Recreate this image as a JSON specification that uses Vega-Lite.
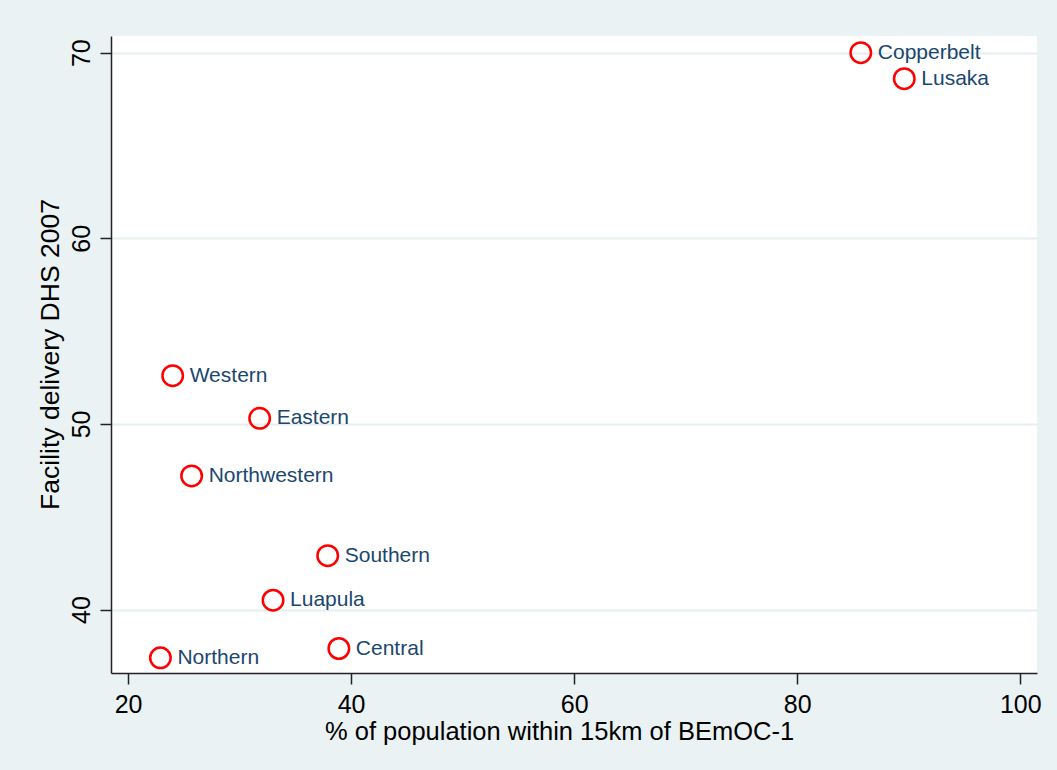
{
  "$schema": "https://vega.github.io/schema/vega-lite/v6.json",
  "width": 926,
  "height": 637,
  "autosize": {"type": "none"},
  "padding": {"left": 111, "top": 36, "right": 20, "bottom": 97},
  "background": "#EAF2F3",
  "view": {"fill": "white", "stroke": null},
  "config": {
    "font": "Liberation Sans",
    "axis": {
      "domainColor": "#222222",
      "domainWidth": 1.5,
      "tickColor": "#222222",
      "tickWidth": 1.5,
      "tickSize": 11,
      "labelFont": "Liberation Sans",
      "titleFont": "Liberation Sans",
      "labelColor": "#000000",
      "titleColor": "#000000",
      "labelFontSize": 25,
      "titleFontSize": 25.5,
      "titleFontWeight": "normal"
    }
  },
  "data": {
    "values": [
      {"region": "Copperbelt", "pop15km": 85.7, "facility": 70.0},
      {"region": "Lusaka", "pop15km": 89.6, "facility": 68.6},
      {"region": "Western", "pop15km": 24.0, "facility": 52.6},
      {"region": "Eastern", "pop15km": 31.8, "facility": 50.3},
      {"region": "Northwestern", "pop15km": 25.7, "facility": 47.2},
      {"region": "Southern", "pop15km": 37.9, "facility": 42.9},
      {"region": "Luapula", "pop15km": 33.0, "facility": 40.5},
      {"region": "Northern", "pop15km": 22.9, "facility": 37.4},
      {"region": "Central", "pop15km": 38.9, "facility": 37.9}
    ]
  },
  "encoding": {
    "x": {
      "field": "pop15km",
      "type": "quantitative",
      "scale": {"domain": [18.47, 101.5], "nice": false, "zero": false},
      "axis": {
        "title": "% of population within 15km of BEmOC-1",
        "values": [20, 40, 60, 80, 100],
        "grid": false,
        "labelPadding": 8.5,
        "labelBaseline": "top",
        "titlePadding": 2,
        "titleX": 448,
        "titleAlign": "center"
      }
    },
    "y": {
      "field": "facility",
      "type": "quantitative",
      "scale": {"domain": [36.58, 70.9], "nice": false, "zero": false},
      "axis": {
        "title": "Facility delivery DHS 2007",
        "values": [40, 50, 60, 70],
        "grid": true,
        "gridColor": "#E6EEF0",
        "gridWidth": 2,
        "labelAngle": -90,
        "labelAlign": "center",
        "labelBaseline": "alphabetic",
        "labelPadding": 11,
        "titleFontSize": 26.5,
        "titleAngle": -90,
        "titleAlign": "center",
        "titleBaseline": "alphabetic",
        "titleX": -53,
        "titleY": 318
      }
    }
  },
  "layer": [
    {
      "mark": {"type": "point", "shape": "circle", "filled": false, "size": 420, "stroke": "#ff0000", "strokeWidth": 2.5, "opacity": 1}
    },
    {
      "mark": {"type": "text", "align": "left", "baseline": "middle", "dx": 17, "fontSize": 21, "color": "#1a476f", "font": "Liberation Sans"},
      "encoding": {"text": {"field": "region"}}
    }
  ]
}
